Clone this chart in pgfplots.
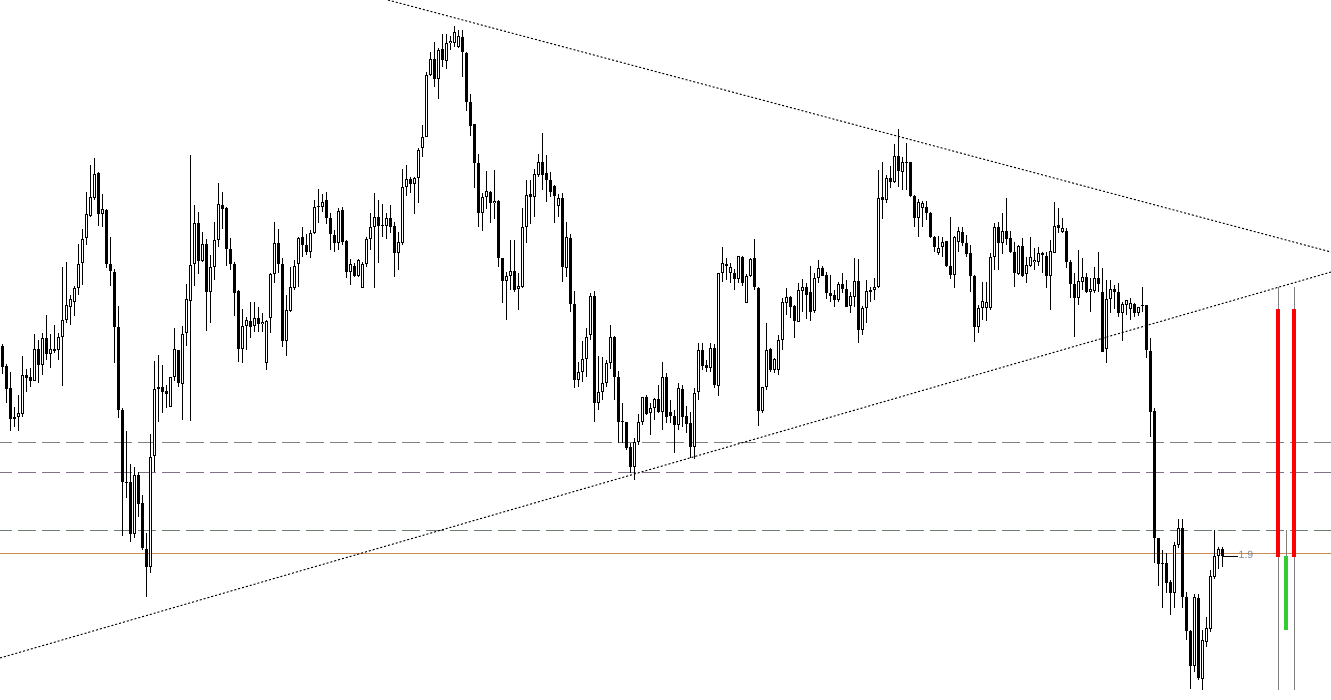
\documentclass[border=0pt]{standalone}
\usepackage{pgfplots}
\usepackage{pgfplotstable}
\usepackage{fontspec}
\pgfplotsset{compat=1.18}
\newfontfamily\labfont{Liberation Sans}
\definecolor{lvl}{RGB}{200,140,80}
\definecolor{dgray}{RGB}{128,128,128}
\definecolor{dpurp}{RGB}{130,112,138}
\definecolor{dgreen}{RGB}{112,128,112}
\definecolor{labgray}{RGB}{128,136,148}
\definecolor{mtgreen}{RGB}{50,205,50}

% i t(1=bull hollow,0=bear filled) top bot H L  (pixel y, downwards)
\pgfplotstableread{
i t top bot H L
0 0 346 366.7 344.3 374.3
1 0 366 388.7 364.3 403.3
2 0 388 419.3 372 430.7
3 0 417 418.7 407.3 426.7
4 1 413.3 417.3 395 430.7
5 1 375.3 413.7 356 416.7
6 0 375.3 377.7 369 392.3
7 0 377.3 380.7 368.3 386.7
8 1 349.3 381.3 334 381.3
9 0 349.3 365.3 340 382.7
10 1 338.3 365.3 333 375
11 0 338.3 354.3 315 360
12 1 348.7 354.3 334 367.7
13 0 349.3 350.7 325 352.7
14 1 337.3 350.3 333.3 360
15 1 320.3 337.3 267 385.7
16 1 305.3 319.7 262 322.7
17 1 298.7 306.7 295 325
18 1 288.3 301.7 286 315.7
19 1 264.3 288.3 244 295
20 1 239.3 262.7 229 284.7
21 1 214.3 238.3 192 245
22 1 197.3 215.7 165 216.7
23 1 174.3 197.7 158 200
24 0 173 214.3 172 225.7
25 1 209.3 214.3 194 227.3
26 0 210 264.3 209 267.7
27 0 264.3 270.7 237.3 285.7
28 0 272.3 326.7 269 363.3
29 0 327 410.3 306 417.7
30 0 410.3 482.3 408.3 535.7
31 0 482 482.7 431 497.7
32 0 482 534.3 464 542.3
33 1 475 534.3 467.3 538.3
34 0 475 504.3 471.7 516.7
35 0 503.3 548.3 495 550
36 0 549 567.3 533.3 597.3
37 1 457 567.3 434 573.3
38 1 389.3 456.3 360.7 471.7
39 1 387.3 389.3 355 421.7
40 0 387.3 391.7 365 413.3
41 0 391 393.7 385.3 408.3
42 1 377 406.7 376.7 406.7
43 1 349 376.7 327.7 380.7
44 0 350 383.3 350 386.7
45 1 334 384.3 325.7 420
46 1 299.3 333.3 284 346
47 1 265.3 300.7 155 420.7
48 1 223 264.3 205 285.7
49 0 223 260.7 212 274
50 1 244.3 261.3 231.7 261.7
51 0 244.3 291.7 239.3 330.7
52 1 267.3 291.7 255 323.3
53 1 240 267.3 222 280
54 1 204 240 183 246.7
55 0 205.3 208.7 191.7 228.7
56 0 208.3 249.3 206.7 266
57 0 249.3 264.3 238.3 270
58 0 264.3 292.7 261.7 315.7
59 0 291 349.3 290 361.7
60 1 325.7 349.3 309 363.3
61 1 320 326 316.7 350
62 0 321 326.7 302.3 338.3
63 1 317.7 325.7 302.3 331.7
64 0 317.7 324.3 306.7 331.7
65 1 321.7 324.3 313.3 331.7
66 1 321 363.3 320 370
67 1 274 318.3 273.3 333.3
68 1 243.3 274 221.7 283.3
69 0 242.7 264.3 229.3 273.3
70 0 264.3 340.7 258.3 346.7
71 1 310 340.7 295 355.7
72 1 287.3 310.7 267.3 311.7
73 1 266 288.3 260 290
74 1 238.3 264.3 236.7 286.7
75 0 236.7 245 227.3 256.7
76 0 245 251.7 234.3 255
77 1 233.3 252.3 230 258.3
78 1 207.3 233.3 200 234.3
79 1 205.7 207.3 189 223.3
80 1 201.7 206.7 194 211.7
81 0 200 218.3 192.3 224.3
82 0 218.3 234.3 212.7 250
83 0 235 243.3 230 251.7
84 1 210.7 242.7 208.3 250
85 0 210 241.7 207.3 245
86 0 240.7 271.7 240 278.3
87 1 264.3 271.7 259.3 285
88 0 265.7 275.7 263.3 276.7
89 1 260 275.7 259 276.7
90 1 264.3 287.7 261.7 288.3
91 1 239 264.3 236.7 266.7
92 1 227.3 239 213.3 250
93 1 217.3 227.3 193.3 288.3
94 0 217.3 225.7 200 262.7
95 0 224.7 225.7 204 236.7
96 1 218.3 225.7 213.3 239
97 0 218.3 226.7 205 233.3
98 0 226 252.7 221.7 276.7
99 1 242.3 253.3 232.3 270
100 1 187.3 242.7 169 245
101 1 179.3 187.3 165 195.7
102 0 179.3 184.3 177.3 193.3
103 1 178 184.3 176.7 214.3
104 1 150 178.3 148.3 202.7
105 1 136.7 148.3 125 157.3
106 1 75 136.7 71.7 137.3
107 1 59.3 75 52.3 76
108 0 59.3 79.3 42.3 86.7
109 1 50 79.3 48.3 99.3
110 0 49.3 60 34 67.3
111 1 43.3 60.7 34 69.3
112 1 41 43.3 36 50
113 1 32.3 42.7 26 46.7
114 1 36 46.7 30 48.3
115 0 36.7 51.7 30 76.7
116 0 52.7 102.3 52.3 110.7
117 0 102.3 125.7 94 136
118 0 124 163.3 124 188.3
119 0 163.3 213.3 154 226.7
120 1 197.3 212.7 193.3 230.7
121 1 191 196.7 171 209
122 0 192.3 203.3 190.7 222.7
123 1 201 203.3 170 219
124 0 201 258.3 200 266.7
125 0 258.3 280.7 258.3 303.3
126 1 275.7 280.7 272.3 320
127 1 270.7 275.7 240 290
128 0 271 290 240 291.7
129 1 286 289.3 273.3 310
130 1 227.3 286.7 208.3 288.3
131 1 195 227.3 180 243.3
132 0 194 196.7 180 224
133 1 174 196.7 169 217.3
134 1 162.3 175 154.3 176.7
135 0 162.3 175 133.3 190
136 0 172.7 180 155 201.7
137 0 180 191.7 171.7 196.7
138 0 186 195.7 185 222.7
139 1 198.3 205.7 194.3 217.3
140 0 198.3 267.3 193.3 282.3
141 1 237.3 268.3 221.7 277.3
142 0 238.3 304.3 234.3 311.7
143 0 304.3 380 291 388.3
144 1 372.3 380 362.3 386.7
145 1 359.3 372.3 340.7 382.3
146 1 336.7 359.3 328.3 376.7
147 1 296 335 292.7 340
148 0 296 403.3 291 421.7
149 1 391.7 403.3 356 410
150 1 383.3 391.7 357.3 400
151 1 363.3 383.3 360 386.7
152 1 337.3 363.3 325 369.3
153 0 337.3 376.7 336 400
154 0 377.3 421.7 370.7 443.3
155 0 421 422.3 403.3 443.3
156 0 422.3 447.7 421.7 450
157 0 447.3 466.7 443.3 473.3
158 1 442.3 466.7 438.3 480
159 1 422.3 442.3 414.3 445
160 1 397.3 422.3 396.7 425
161 0 396.7 414 395 415
162 1 408.3 413.3 403.3 435
163 1 399.3 408.3 397.7 420
164 0 399.3 411.7 385 413.3
165 1 377.3 411.7 361.7 430
166 0 376.7 416.7 373.3 423.3
167 0 411.7 415.7 400 423.3
168 0 415.7 425 410 453.3
169 1 388.3 425 383.3 430
170 0 389 416.7 385 426.7
171 0 416 424 406 433.3
172 0 423.3 447.3 411.7 458.3
173 1 393.3 446.7 388.3 459.3
174 1 350 392.3 343.3 400
175 0 350 365.7 342.7 370
176 0 365 368.3 360 371.7
177 1 348.3 368.3 343.3 371.7
178 0 348.3 385 344.3 388.3
179 1 273.3 385.7 273.3 395.7
180 1 263.3 273.3 246.7 281.7
181 0 264.3 266 258.3 280
182 1 266.7 273.3 263.3 283.3
183 0 272.7 279.3 269.3 290
184 1 255.7 279.3 255.7 283.3
185 0 257.3 283.3 255.7 286
186 1 275.7 303.3 274.3 303.3
187 1 259.3 276 258.3 276.7
188 0 258.3 286.7 239.3 290
189 0 287.7 411 286.7 425.7
190 1 387.3 411 386.7 413.3
191 1 350 386.7 322.7 390
192 0 349 370 347.7 371.7
193 1 359.3 370 358.3 373.3
194 1 340 370 335 375
195 1 301.7 340 298.3 350
196 1 296.7 302.7 288.3 315
197 0 296.7 306.7 296 318.3
198 0 305.7 320.7 305 338.3
199 1 290 321.7 282.7 322.3
200 1 286.7 290.7 279 311.7
201 0 286.7 295 283.3 319
202 0 291.7 311.7 265.7 320.7
203 1 278.3 311 273.3 313.3
204 1 267.7 278.3 260 282.7
205 0 267.7 276 266 276
206 0 275 293.3 271.7 299
207 0 293.3 295.7 275 301.7
208 0 295 300 290 306.7
209 1 284 300 282.3 301.7
210 0 284 289 273.3 293.3
211 0 289 306.7 280 307.3
212 1 296 305.7 291.7 313.3
213 1 281 296.7 258.3 306.7
214 0 281 330 259.3 343.3
215 1 307.7 330 306 335
216 1 291 307.7 280 323.3
217 1 290 291.7 286.7 301.7
218 1 287.3 290 278.3 300
219 1 198.3 287.3 170 288.3
220 0 197.3 200 162.3 219.3
221 1 178.3 200 175 203.3
222 0 177.7 181.7 165.7 188.3
223 1 156 182.3 144 183.3
224 0 156 171 129.3 186.7
225 1 162.3 171.7 156.7 190
226 0 162.3 163.3 143.3 190
227 0 162.3 195.7 161.7 197.3
228 0 195.7 217.7 195 226.7
229 1 201.7 217.7 199 236.7
230 1 203.3 207.7 201 226.7
231 0 207.3 212.7 201 220
232 0 212.7 236.7 212.3 238.3
233 0 237.3 246.7 236 251.7
234 1 248.3 253.3 236 255
235 1 241.7 247.3 237.3 256.7
236 0 241 265.7 240.7 266.7
237 0 265.7 275 217.3 279.3
238 1 236.7 275 236 288.3
239 1 231 241.7 226.7 251.7
240 0 232.3 242.7 226.7 246
241 0 242.7 254.3 235 256.7
242 0 253.3 276 245 291.7
243 0 276 326.7 275 341.7
244 1 307.7 326.7 305 333.3
245 1 301 307.7 281.7 320
246 1 301.7 308.3 281.7 321
247 1 256.7 308.3 252.7 310
248 1 226.7 256.7 223.3 270
249 0 226.7 243.3 222.3 270
250 1 231 243.3 213.3 254
251 0 231 239.3 198.3 245
252 0 238.3 251.7 230.7 253.3
253 0 251.7 273.3 241.7 287.3
254 1 246 274 245 275
255 0 246 275.7 238.3 276.7
256 1 265 274.3 256.7 283.3
257 1 256.7 266 236.7 266.7
258 1 260 262.3 247.7 270
259 1 253.3 261.7 246.7 266
260 0 252.7 255 251.7 273.3
261 0 255.7 275.7 251.7 288.3
262 1 251 275.7 240 310
263 1 226 252.7 202.3 253.3
264 0 225 227.7 208.3 233.3
265 1 228.3 231.7 218.3 232.7
266 0 231 261.7 228.3 268.3
267 0 261.7 284.3 260 298.3
268 0 284.3 297.7 273.3 336.7
269 1 281 297.7 250 305
270 1 276.7 281.7 258.3 290
271 0 277.3 291.7 273.3 293.3
272 1 289 291.7 278.3 311.7
273 1 278.3 290.7 266.7 293.3
274 0 278.3 284.3 251.7 291.7
275 0 292.3 351.7 268.3 352.3
276 1 299.3 349.3 280 362.7
277 1 289.3 299.3 280 313.3
278 0 289.3 292.3 285 309.3
279 0 292.3 312.7 283.3 316.7
280 1 304.3 312.7 301.7 340.7
281 1 300 305 300 315
282 1 303.3 309.3 298.3 320
283 0 304 313.3 302.7 317.3
284 1 307.3 313.3 306.7 316
285 0 305 306 286.7 311.7
286 0 305 350 305 358.3
287 0 351 411.7 338.3 436.7
288 0 411 537.7 408.3 562.7
289 0 538.3 564 538.3 586
290 0 563.3 564.3 550 607.7
291 0 563.3 583.3 553.3 593.3
292 0 582.3 593.3 580 615
293 1 545 593.3 541.7 608.3
294 1 528.3 545 519.3 548.3
295 0 528.3 596.7 519.3 607.7
296 0 596.7 630.7 591.7 640
297 0 630.7 665.7 630 689.3
298 1 597.3 665.7 594 671.7
299 0 598.3 678.3 594 680
300 1 640 679 630 690
301 1 628.3 641.7 616.7 646.7
302 1 576 629.3 570 631.7
303 1 556 576.7 530 579.3
304 1 549.3 556 546.7 569.3
305 0 549.3 556 546.7 566.7
}\candles

\begin{document}
\begin{tikzpicture}
\begin{axis}[
  width=1331pt, height=699pt, scale only axis,
  xmin=0, xmax=1331, ymin=0, ymax=699, y dir=reverse,
  hide axis, clip=true,
]
\fill[white] (rel axis cs:0,0) rectangle (rel axis cs:1,1);

% horizontal levels
\addplot[dgray, line width=1pt, dash pattern=on 17.3pt off 6.7pt, dash phase=5.6pt] coordinates {(0,442.5) (1331,442.5)};
\addplot[dpurp, line width=1pt, dash pattern=on 17.3pt off 6.7pt, dash phase=5.6pt] coordinates {(0,472.5) (1331,472.5)};
\addplot[dgreen, line width=1pt, dash pattern=on 17.3pt off 6.7pt, dash phase=5.6pt] coordinates {(0,530.5) (1331,530.5)};
\addplot[lvl, line width=1pt] coordinates {(0,553.5) (1331,553.5)};

% wicks
\addplot[draw=none, mark=none, error bars/.cd, y dir=plus, y explicit, error mark=none,
  error bar style={draw=black, solid, line width=1pt}]
  table[x expr=2.5+4*\thisrow{i}, y=H, y error plus expr=\thisrow{L}-\thisrow{H}] {\candles};
% bodies
\addplot[draw=none, mark=none, error bars/.cd, y dir=plus, y explicit, error mark=none,
  error bar style={draw=black, solid, line width=3pt}]
  table[x expr=2.5+4*\thisrow{i}, y=top, y error plus expr={max(\thisrow{bot}-\thisrow{top},1)}] {\candles};
% hollow interiors of bullish candles
\addplot[draw=none, mark=none, error bars/.cd, y dir=plus, y explicit, error mark=none,
  error bar style={draw=white, solid, line width=1pt}]
  table[x expr=2.5+4*\thisrow{i}, y expr=\thisrow{top}+1, y error plus expr={\thisrow{t}*max(\thisrow{bot}-\thisrow{top}-2,0)}] {\candles};

% trend lines
\addplot[black, line width=1pt, dash pattern=on 2pt off 2pt] coordinates {(388,0) (1331,252)};
\addplot[black, line width=1pt, dash pattern=on 2pt off 2pt] coordinates {(0,658) (1331,272)};

% bid marker
\addplot[black, line width=1pt] coordinates {(1222,556.5) (1238,556.5)};

% right-hand indicator bars
\addplot[dgray, line width=1pt] coordinates {(1278.5,287) (1278.5,690)};
\addplot[dgray, line width=1pt] coordinates {(1294.5,287) (1294.5,690)};
\addplot[dgray, line width=1pt] coordinates {(1286.5,530) (1286.5,557)};
\addplot[red, line width=4pt] coordinates {(1278,309) (1278,557)};
\addplot[red, line width=4pt] coordinates {(1294,309) (1294,557)};
\addplot[mtgreen, line width=4pt] coordinates {(1286,556) (1286,630)};

\node[anchor=west, inner sep=0pt, text=labgray, font=\labfont\fontsize{10.5pt}{12pt}\selectfont] at (axis cs:1238.5,554.5) {1.9};
\end{axis}
\end{tikzpicture}
\end{document}
